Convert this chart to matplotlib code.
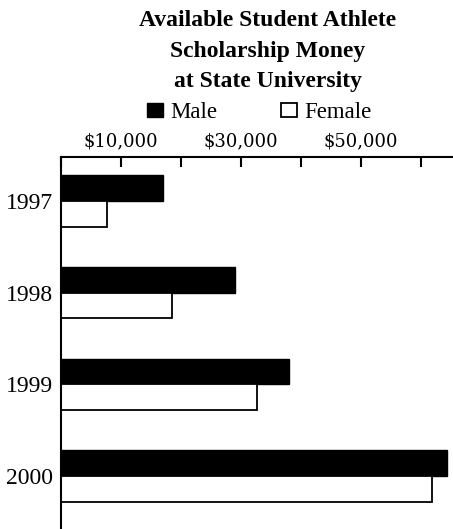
import matplotlib

matplotlib.use("Agg")
import matplotlib.pyplot as plt

# data
years = ["1997", "1998", "1999", "2000"]
male = [17000, 29000, 38000, 64300]
female = [7700, 18500, 32700, 61800]
tick_values = [0, 10000, 20000, 30000, 40000, 50000, 60000]
tick_labels = ["", "$10,000", "", "$30,000", "", "$50,000", ""]
title_lines = ["Available Student Athlete", "Scholarship Money", "at State University"]

W, H = 453, 529
fig = plt.figure(figsize=(W / 100, H / 100), dpi=100)
fig.patch.set_facecolor("white")

ax = fig.add_axes([61 / W, 0, 1 - 61 / W, 1 - 157 / H])

bar_h = 0.28
pos = list(range(len(years)))
m_bars = ax.barh([p - bar_h / 2 for p in pos], male, height=bar_h,
                 color="black", edgecolor="black", linewidth=1.0, label="Male")
f_bars = ax.barh([p + bar_h / 2 for p in pos], female, height=bar_h,
                 color="white", edgecolor="black", linewidth=1.3, label="Female")

ax.set_xlim(0, (W - 61) * 10000 / 60)
ax.set_ylim(3.578, -0.48)

for side in ("right", "bottom"):
    ax.spines[side].set_visible(False)
for side in ("left", "top"):
    ax.spines[side].set_linewidth(1.5)
    ax.spines[side].set_color("black")

ax.xaxis.tick_top()
ax.set_xticks(tick_values)
ax.set_xticklabels(tick_labels, fontfamily="DejaVu Serif", fontsize=13)
ax.tick_params(axis="x", direction="in", length=7.5, width=1.5, pad=5, top=True, bottom=False)

ax.set_yticks(pos)
ax.set_yticklabels(years, fontfamily="Liberation Serif", fontsize=17)
ax.tick_params(axis="y", length=0, pad=6)

for i, line in enumerate(title_lines):
    fig.text(268 / W, 1 - (21 + 30 * i) / H, line, ha="center", va="center",
             fontfamily="Liberation Serif", fontweight="bold", fontsize=17)

fig.legend(handles=[m_bars, f_bars], labels=["Male", "Female"], ncol=2,
           loc="center left", bbox_to_anchor=(147 / W, 1 - 113 / H),
           bbox_transform=fig.transFigure, frameon=False,
           prop={"family": "Liberation Serif", "size": 16.5},
           handlelength=0.7, handleheight=0.55, handletextpad=0.3,
           columnspacing=2.8, borderpad=0, borderaxespad=0)

fig.savefig("out.png", dpi=100, facecolor="white")
